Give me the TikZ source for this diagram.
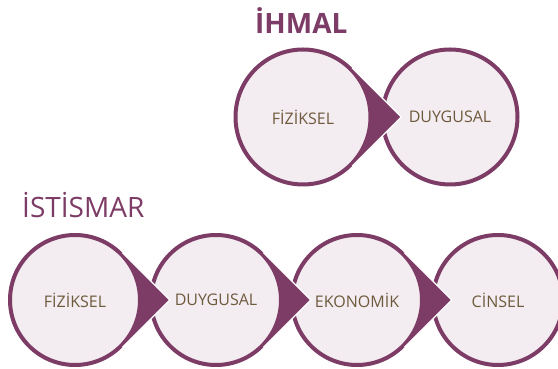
\documentclass[tikz,border=0pt]{standalone}
\usepackage{fontspec}
\setmainfont{Open Sans}
\usetikzlibrary{calc,positioning}
\definecolor{plum}{HTML}{7D3C66}
\definecolor{blush}{HTML}{F3ECF1}
\definecolor{umber}{HTML}{6E5A3C}

\begin{document}
\begin{tikzpicture}[x=1pt,y=1pt,
    bubble/.style={circle,draw=plum,fill=blush,line width=4pt,inner sep=0pt,outer sep=0pt,
        text=umber,font=\fontsize{16}{18}\selectfont},
    bigbubble/.style={bubble,minimum size=135pt},
    smallbubble/.style={bubble,minimum size=130pt},
    heading/.style={text=plum,anchor=base west,inner sep=0pt,font=\fontsize{28}{32}\selectfont}]
\clip (0,0) rectangle (558,369);
% titles
\node[heading,font=\bfseries\fontsize{28}{32}\selectfont] (ihmal) at (255,335) {İHMAL};
\node[heading] (istismar) at (22,151) {İSTİSMAR};
% circles
\node[bigbubble] (ih1) at (303,252) {FİZİKSEL};
\node[bigbubble,right=12pt of ih1] (ih2) {DUYGUSAL};
\node[smallbubble] (is1) at (75,69) {FİZİKSEL};
\node[smallbubble,right=11pt of is1] (is2) {DUYGUSAL};
\node[smallbubble,right=11pt of is2] (is3) {EKONOMİK};
\node[smallbubble,right=11pt of is3] (is4) {CİNSEL};
% pointers
\foreach \from/\rad in {ih1/69.5,is1/67,is2/67,is3/67}
{
    \fill[plum] ($(\from.center)+(45:\rad)$) -- ++(-45:\rad) -- ++(-135:\rad)
        -- ($(\from.center)+(-45:\rad-2)$) arc[start angle=-45,end angle=45,radius=\rad-2] -- cycle;
    \draw[white,line width=1.2pt] ($(\from.center)+(45:\rad)$) -- ++(-45:\rad) -- ++(-135:\rad);
}
\end{tikzpicture}
\end{document}
